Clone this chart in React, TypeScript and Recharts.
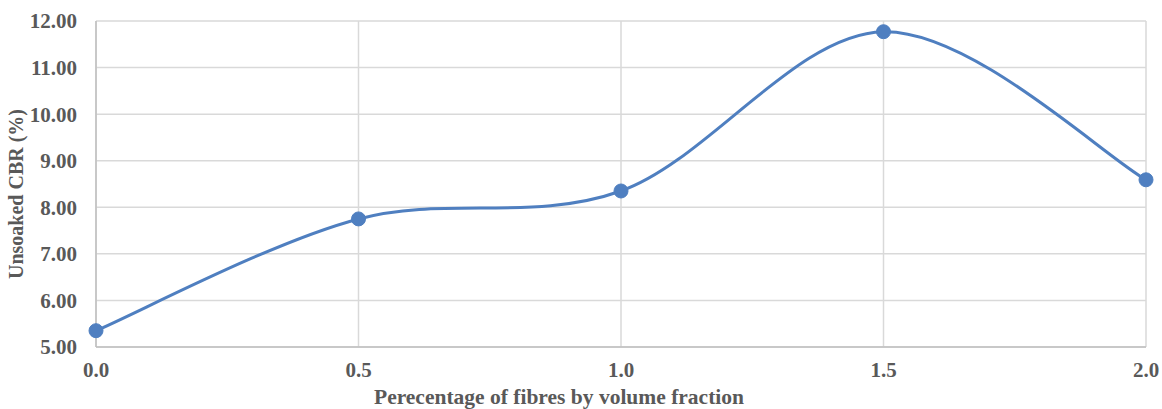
import React from "react";
import { LineChart, Line, XAxis, YAxis, CartesianGrid } from "recharts";

const fibrePercent = [0.0, 0.5, 1.0, 1.5, 2.0];
const unsoakedCBR = [5.35, 7.75, 8.35, 11.77, 8.59];
const xTicks = [0, 0.5, 1.0, 1.5, 2.0];
const yTicks = [5, 6, 7, 8, 9, 10, 11, 12];

const data = fibrePercent.map((x, i) => ({ x, y: unsoakedCBR[i] }));

// Excel-like smoothing (Catmull-Rom as cubic Bezier)
const excelSmooth = (context: any) => {
  let pts: [number, number][] = [];
  return {
    areaStart() {},
    areaEnd() {},
    lineStart() {
      pts = [];
    },
    point(x: number, y: number) {
      pts.push([+x, +y]);
    },
    lineEnd() {
      if (!pts.length) return;
      context.moveTo(pts[0][0], pts[0][1]);
      for (let i = 0; i < pts.length - 1; i++) {
        const p0 = pts[i - 1] || pts[i];
        const p1 = pts[i];
        const p2 = pts[i + 1];
        const p3 = pts[i + 2] || pts[i + 1];
        const c1x = p1[0] + (p2[0] - p0[0]) / 6;
        const c1y = p1[1] + (p2[1] - p0[1]) / 6;
        const c2x = p2[0] - (p3[0] - p1[0]) / 6;
        const c2y = p2[1] - (p3[1] - p1[1]) / 6;
        context.bezierCurveTo(c1x, c1y, c2x, c2y, p2[0], p2[1]);
      }
    },
  };
};

const textColor = "#595959";
const font = "'Liberation Serif', 'Times New Roman', serif";

export default function App() {
  return (
    <div style={{ position: "absolute", left: 0, top: 0, width: 1162, height: 409, background: "#fff" }}>
      <LineChart
        width={1162}
        height={409}
        data={data}
        margin={{ top: 21, right: 16, left: 0, bottom: 0 }}
      >
        <CartesianGrid stroke="#D9D9D9" strokeWidth={1.5} vertical={true} horizontal={true} />
        <XAxis
          dataKey="x"
          type="number"
          domain={[0, 2]}
          ticks={xTicks}
          tickFormatter={(v: number) => v.toFixed(1)}
          height={62}
          axisLine={{ stroke: "#BFBFBF", strokeWidth: 1.5 }}
          tickLine={false}
          tickSize={0}
          tickMargin={15}
          tick={{ fill: textColor, fontSize: 21, fontWeight: "bold", fontFamily: font }}
          label={{
            value: "Perecentage of fibres by volume fraction",
            position: "insideBottom",
            offset: 5,
            dx: -62,
            fill: textColor,
            fontSize: 21.5,
            fontWeight: "bold",
            fontFamily: font,
          }}
        />
        <YAxis
          type="number"
          domain={[5, 12]}
          ticks={yTicks}
          tickFormatter={(v: number) => v.toFixed(2)}
          width={96}
          axisLine={{ stroke: "#BFBFBF", strokeWidth: 1.5 }}
          tickLine={false}
          tickSize={0}
          tickMargin={19}
          tick={{ fill: textColor, fontSize: 21, fontWeight: "bold", fontFamily: font }}
          label={{
            value: "Unsoaked CBR (%)",
            angle: -90,
            position: "insideLeft",
            offset: 16,
            dy: 10,
            fill: textColor,
            fontSize: 20,
            fontWeight: "bold",
            fontFamily: font,
            style: { textAnchor: "middle" },
          }}
        />
        <Line
          dataKey="y"
          type={excelSmooth as any}
          stroke="#4F7FC0"
          strokeWidth={3}
          dot={{ r: 7, fill: "#4F7FC0", stroke: "#4F7FC0", strokeWidth: 1 }}
          isAnimationActive={false}
        />
      </LineChart>
    </div>
  );
}
